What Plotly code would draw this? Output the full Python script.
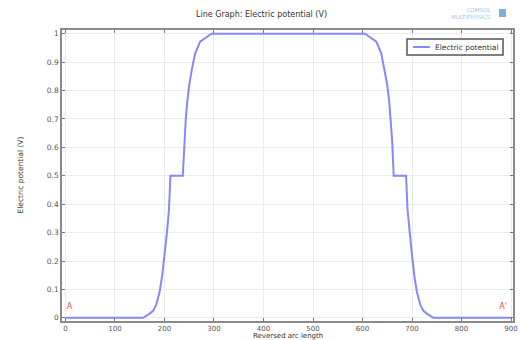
import plotly.graph_objects as go

# Reversed arc length vs electric potential (V)
arc_length = [0, 157, 170, 177, 183, 190, 195, 200, 205, 209, 212, 237, 240, 243, 246, 250, 255, 262, 272, 295,
              605, 628, 638, 645, 650, 654, 657, 660, 663, 688, 691, 695, 700, 705, 710, 717, 723, 730, 743, 900]
potential = [0, 0, 0.015, 0.025, 0.045, 0.09, 0.144, 0.22, 0.30, 0.38, 0.5, 0.5, 0.62, 0.70, 0.76, 0.82, 0.872, 0.93, 0.972, 1.0,
             1.0, 0.972, 0.93, 0.872, 0.82, 0.76, 0.70, 0.62, 0.5, 0.5, 0.38, 0.30, 0.22, 0.144, 0.09, 0.045, 0.025, 0.015, 0, 0]

x_ticks = [0, 100, 200, 300, 400, 500, 600, 700, 800, 900]
y_ticks = [0, 0.1, 0.2, 0.3, 0.4, 0.5, 0.6, 0.7, 0.8, 0.9, 1]
point_labels = ["A", "A'"]
point_x = [8, 884]
point_y = [0.04, 0.04]
series_name = "Electric potential"

FONT = "DejaVu Sans"
LINE_COLOR = "rgb(135,135,255)"

fig = go.Figure()
fig.add_trace(go.Scatter(
    x=arc_length, y=potential, mode="lines", name=series_name,
    line=dict(color=LINE_COLOR, width=2), showlegend=False,
))
fig.add_trace(go.Scatter(
    x=point_x, y=point_y, mode="text", text=point_labels, showlegend=False,
    textfont=dict(color="rgb(240,70,70)", size=8, family=FONT), textposition="middle center",
))

axis_common = dict(
    showline=True, linecolor="#8a8a8a", linewidth=1.5, mirror="ticks",
    ticks="inside", ticklen=3, tickcolor="#777",
    showgrid=True, gridcolor="#ebebeb", gridwidth=1,
    zeroline=False,
    ticklabeloverflow="allow",
)

fig.update_layout(
    width=521, height=340,
    margin=dict(l=62, r=3, t=30, b=19),
    paper_bgcolor="white", plot_bgcolor="white",
    showlegend=False,
    xaxis=dict(range=[-7, 904], tickvals=x_ticks, ticklabelstandoff=0,
               tickfont=dict(size=7, color="#555", family=FONT), **axis_common),
    yaxis=dict(range=[-0.011, 1.013], tickvals=y_ticks,
               tickfont=dict(size=7.5, color="#555", family=FONT), **axis_common),
)

# Legend box (drawn manually to match the compact original)
fig.add_shape(type="rect", xref="paper", yref="paper", xsizemode="pixel", ysizemode="pixel",
              xanchor=1, yanchor=1, x0=-106, x1=-10, y0=-9, y1=-25,
              fillcolor="white", line=dict(color="#555", width=1.5))
fig.add_shape(type="line", xref="paper", yref="paper", xsizemode="pixel", ysizemode="pixel",
              xanchor=1, yanchor=1, x0=-100, x1=-83, y0=-17, y1=-17,
              line=dict(color=LINE_COLOR, width=2))
fig.add_annotation(text=series_name, xref="paper", yref="paper",
                   x=1, y=1, xshift=-80, yshift=-17, xanchor="left", yanchor="middle", showarrow=False,
                   font=dict(size=7.5, color="#333", family=FONT))

fig.add_annotation(text="Line Graph: Electric potential (V)", xref="paper", yref="paper",
                   x=230 / 521, y=1, yshift=16, xanchor="center", yanchor="middle", showarrow=False,
                   font=dict(size=8, color="#333", family=FONT))
fig.add_annotation(text="Reversed arc length", xref="paper", yref="paper",
                   x=0.5, y=0, yshift=-15, xanchor="center", yanchor="middle", showarrow=False,
                   font=dict(size=7, color="#333", family=FONT))
fig.add_annotation(text="Electric potential (V)", xref="paper", yref="paper",
                   x=0, y=0.5, xshift=-42, textangle=-90, xanchor="center", yanchor="middle", showarrow=False,
                   font=dict(size=7.5, color="#333", family=FONT))
# COMSOL logo
fig.add_annotation(text="COMSOL<br>MULTIPHYSICS", xref="paper", yref="paper",
                   x=1, y=1, xshift=-20, yshift=17, xanchor="right", yanchor="middle", showarrow=False,
                   align="right", font=dict(size=5.5, color="#9cc4e4", family=FONT))
fig.add_shape(type="rect", xref="paper", yref="paper", xsizemode="pixel", ysizemode="pixel",
              xanchor=1, yanchor=1, x0=-14, x1=-7, y0=13, y1=21,
              fillcolor="#7fb0dc", line=dict(width=0))

fig.write_html("out.html", post_script="document.body.style.margin='0';",
               config={"displayModeBar": False})
